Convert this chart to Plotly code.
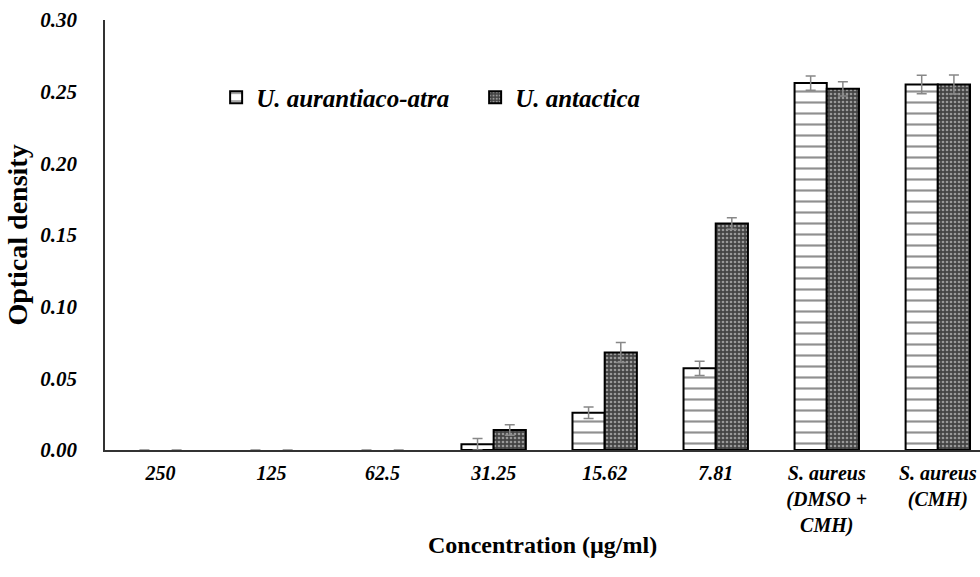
import plotly.graph_objects as go

categories = ["250", "125", "62.5", "31.25", "15.62", "7.81",
              "S. aureus<br>(DMSO +<br>CMH)", "S. aureus<br>(CMH)"]
aur_values = [0, 0, 0, 0.004, 0.026, 0.057, 0.256, 0.255]
aur_errors = [0, 0, 0, 0.004, 0.004, 0.005, 0.005, 0.0065]
ant_values = [0, 0, 0, 0.014, 0.068, 0.158, 0.252, 0.255]
ant_errors = [0, 0, 0, 0.0037, 0.007, 0.004, 0.005, 0.0066]
series_names = ["U. aurantiaco-atra", "U. antactica"]
y_ticks = [0, 0.05, 0.10, 0.15, 0.20, 0.25, 0.30]
y_tick_labels = ["0.00", "0.05", "0.10", "0.15", "0.20", "0.25", "0.30"]

FONT = "Liberation Serif"

styles = [
    dict(color="white",
         pattern=dict(shape="-", fgcolor="#222", bgcolor="white", size=11, solidity=0.2)),
    dict(color="#555",
         pattern=dict(shape=".", fgcolor="#eee", bgcolor="#444", size=4, solidity=0.35)),
]


def outline_widths(values):
    return [2 if v > 0 else 0 for v in values]


fig = go.Figure()
for i, (name, vals, errs) in enumerate(zip(series_names, [aur_values, ant_values], [aur_errors, ant_errors])):
    st = styles[i]
    fig.add_trace(go.Bar(
        x=categories, y=vals, name=name, offsetgroup=str(i), showlegend=False,
        marker=dict(color=st["color"], pattern=st["pattern"],
                    line=dict(color="black", width=outline_widths(vals))),
        error_y=dict(type="data", array=errs, visible=True, color="#888", thickness=1.5, width=5),
    ))
for i, name in enumerate(series_names):
    st = styles[i]
    fig.add_trace(go.Bar(
        x=[categories[0]], y=[None], name=name, offsetgroup=str(i), showlegend=True,
        marker=dict(color=st["color"], pattern=st["pattern"], line=dict(color="black", width=2)),
    ))

fig.add_annotation(
    text="Concentration (µg/ml)", xref="paper", yref="paper", x=0.5, y=-0.221,
    xanchor="center", yanchor="middle", showarrow=False,
    font=dict(family=FONT, size=24, weight="bold"),
)

fig.update_layout(
    width=980, height=577,
    margin=dict(l=105, r=0, t=20, b=127, autoexpand=False),
    paper_bgcolor="white", plot_bgcolor="white",
    barmode="group", bargap=0.42, bargroupgap=0,
    font=dict(family=FONT, color="black"),
    showlegend=True,
    legend=dict(orientation="h", x=0.127, y=0.82, xanchor="left", yanchor="middle",
                font=dict(family=FONT, size=25, weight="bold", style="italic"),
                bgcolor="rgba(0,0,0,0)", itemwidth=30,
                entrywidth=214, entrywidthmode="pixels"),
    xaxis=dict(
        range=[-0.5, 7.38], showline=True, linecolor="#333", linewidth=1.5,
        showgrid=False, ticks="", ticklabelstandoff=4, automargin=False,
        tickfont=dict(family=FONT, size=20, weight="bold", style="italic"),
    ),
    yaxis=dict(
        range=[0, 0.30], showline=True, linecolor="#333", linewidth=1.5,
        showgrid=False, zeroline=False, ticks="", automargin=False,
        tickvals=y_ticks, ticktext=y_tick_labels, ticklabelstandoff=22,
        tickfont=dict(family=FONT, size=21, weight="bold", style="italic"),
        title=dict(text="Optical density", font=dict(family=FONT, size=28, weight="bold"), standoff=4),
    ),
)

fig.write_html("out.html")
